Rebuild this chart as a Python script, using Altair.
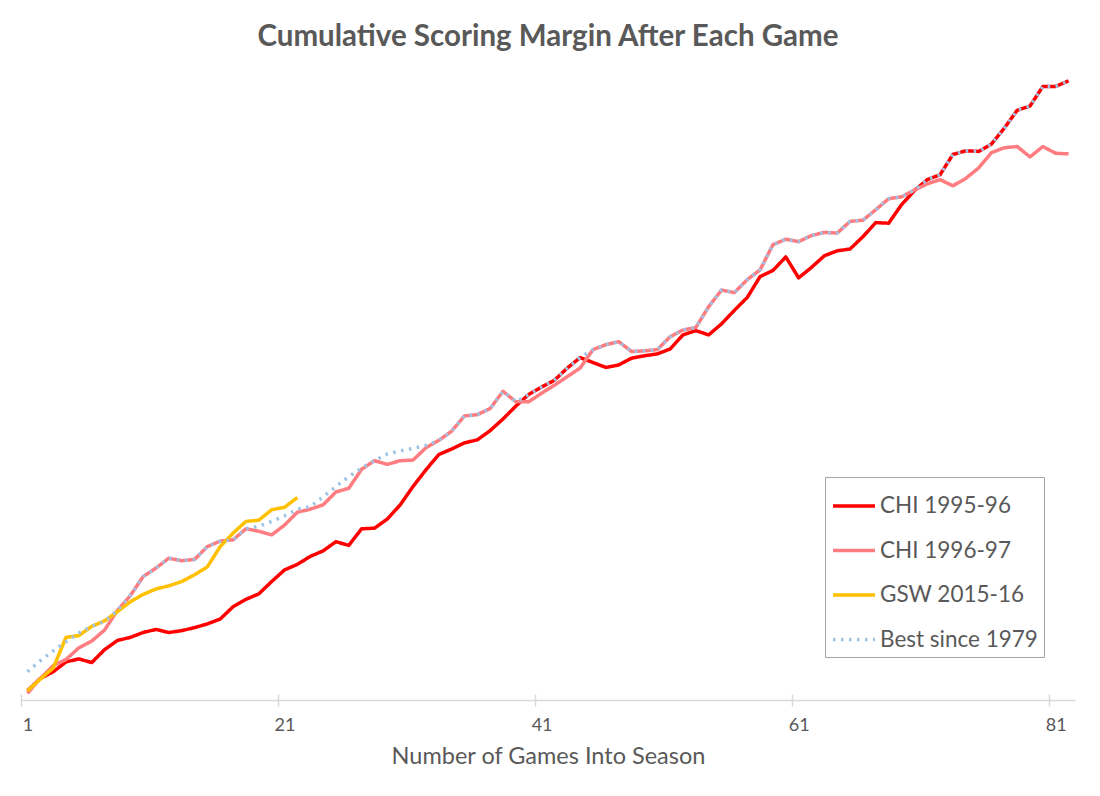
import altair as alt
import pandas as pd

games = list(range(1, 83))

chi_9596 = [15, 35, 46, 62, 67, 61, 82, 97, 102, 110,
            115, 110, 113, 118, 124, 132, 152, 164, 173, 193,
            212, 221, 234, 243, 258, 252, 279, 280, 295, 318,
            348, 375, 400, 409, 419, 424, 439, 458, 479, 498,
            510, 521, 541, 558, 550, 542, 546, 557, 561, 564,
            572, 595, 602, 595, 613, 635, 656, 690, 700, 722,
            688, 705, 724, 732, 735, 755, 778, 777, 807, 830,
            848, 856, 889, 895, 894, 906, 932, 961, 968, 1000,
            1000, 1009]

chi_9697 = [11, 35, 56, 66, 85, 96, 114, 146, 170, 201,
            215, 231, 227, 229, 250, 259, 261, 279, 275, 269,
            285, 306, 311, 318, 339, 345, 376, 390, 384, 390,
            391, 411, 423, 438, 463, 465, 475, 503, 486, 486,
            500, 513, 527, 541, 571, 579, 584, 568, 569, 571,
            592, 603, 607, 641, 668, 664, 685, 701, 742, 751,
            747, 757, 762, 761, 780, 782, 799, 817, 820, 831,
            841, 848, 838, 850, 867, 892, 900, 902, 885, 902,
            891, 890]

gsw_1516 = [15, 34, 52, 102, 105, 120, 129, 144, 160, 172,
            181, 186, 193, 204, 217, 250, 272, 291, 293, 310,
            314, 330]

best_since_1979 = [46, 64, 80, 95, 109, 120, 128, 146, 170, 201,
                   215, 231, 227, 229, 250, 259, 261, 279, 283, 291,
                   300, 311, 315, 331, 348, 364, 378, 390, 401, 406,
                   410, 415, 423, 438, 463, 465, 475, 503, 486, 498,
                   510, 521, 541, 558, 571, 579, 584, 568, 569, 571,
                   592, 603, 607, 641, 668, 664, 685, 701, 742, 751,
                   747, 757, 762, 761, 780, 782, 799, 817, 820, 831,
                   848, 856, 889, 895, 894, 906, 932, 961, 968, 1000,
                   1000, 1009]

series_names = ["CHI 1995-96", "CHI 1996-97", "GSW 2015-16", "Best since 1979"]
series_colors = ["#ff0000", "#ff7c80", "#ffc000", "#9dc3e6"]
series_dash = [[1, 0], [1, 0], [1, 0], [2.5, 5.5]]

tick_labels = [1, 21, 41, 61, 81]
tick_marks = [0.5, 20.5, 40.5, 60.5, 80.5]

rows = []
for name, vals in zip(series_names, [chi_9596, chi_9697, gsw_1516, best_since_1979]):
    for g, v in zip(games, vals):
        rows.append({"game": g, "margin": v, "series": name})
df = pd.DataFrame(rows)

font = "Lato"
grey = "#595959"
axis_grey = "#d9d9d9"

x_scale = alt.Scale(domain=[0.5, 82.5], nice=False, zero=False)
y_scale = alt.Scale(domain=[0, 1043], nice=False)

tick_axis = alt.Axis(orient="bottom", values=tick_marks, labels=False, domain=False,
                     ticks=True, tickSize=12, offset=-6, tickColor=axis_grey,
                     tickWidth=1.5, grid=False, title=None)
label_axis = alt.Axis(orient="bottom", values=tick_labels, ticks=False, tickSize=0,
                      domain=True, domainColor=axis_grey, domainWidth=1.5, grid=False,
                      labelFontSize=18, labelColor=grey, labelFont=font,
                      labelPadding=16, labelFlush=False,
                      title="Number of Games Into Season", titleFontSize=23.5,
                      titleFont=font, titleFontWeight="normal", titleColor=grey,
                      titlePadding=10)

legend = alt.Legend(title=None, orient="none", legendX=804, legendY=417,
                    symbolType="stroke", symbolSize=1764, symbolStrokeWidth=3.5,
                    labelFontSize=22.5, labelFont=font, labelColor=grey,
                    labelOffset=3, rowPadding=9.5, padding=6,
                    strokeColor="#a6a6a6", fillColor="white")

color = alt.Color("series:N", scale=alt.Scale(domain=series_names, range=series_colors),
                  legend=legend)
dash = alt.StrokeDash("series:N", scale=alt.Scale(domain=series_names, range=series_dash),
                      legend=legend)

layers = []
for i, name in enumerate(series_names):
    if i == 0:
        axis = tick_axis
    elif i == 1:
        axis = label_axis
    else:
        axis = None
    layer = alt.Chart(df).transform_filter(
        alt.datum.series == name
    ).mark_line(
        strokeWidth=3.5, strokeJoin="round"
    ).encode(
        x=alt.X("game:Q", scale=x_scale, axis=axis),
        y=alt.Y("margin:Q", scale=y_scale, axis=None),
        color=color,
        strokeDash=dash,
    )
    layers.append(layer)

chart = alt.layer(*layers).resolve_axis(
    x="independent"
).properties(
    width=1054,
    height=640,
    title=alt.TitleParams("Cumulative Scoring Margin After Each Game", fontSize=29.5,
                          font=font, fontWeight="bold", color=grey, anchor="middle",
                          baseline="alphabetic", offset=15, dy=30),
    autosize=alt.AutoSizeParams(type="none"),
    padding={"left": 13, "top": 52, "right": 17, "bottom": 88},
).configure_view(
    strokeWidth=0
)

chart.save("out.html", embed_options={"renderer": "svg", "actions": False})
